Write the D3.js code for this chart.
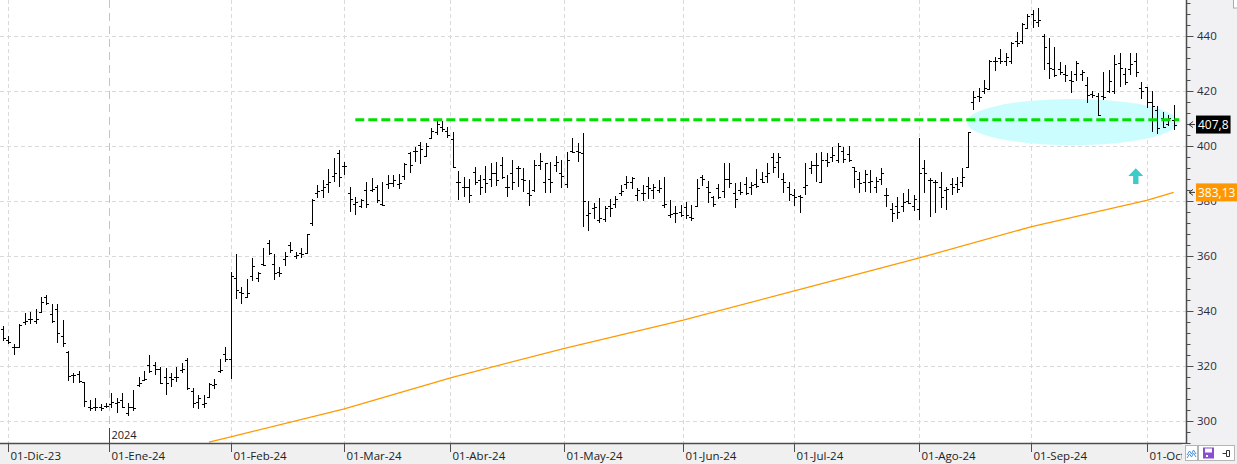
<!DOCTYPE html>
<html><head><meta charset="utf-8">
<script src="https://cdn.jsdelivr.net/npm/d3@7/dist/d3.min.js"></script>
<style>
body{margin:0;background:#fff}
svg{display:block}
text{font-family:"Segoe UI","Open Sans","Noto Sans",sans-serif}
</style>
</head><body>
<svg id="c" width="1237" height="464"></svg>
<script>
// ---------- DATA ----------
const monthLabels = ["01-Dic-23","01-Ene-24","01-Feb-24","01-Mar-24","01-Abr-24","01-May-24","01-Jun-24","01-Jul-24","01-Ago-24","01-Sep-24","01-Oct-24"];
const monthTickIdx = [1,19.5,42,63,82.5,103.5,125.5,146,169,189.6,211];
const yearLabel = "2024";
const yearTickIdx = 19.5;

const opens = [333.3,329.5,327.0,327.0,336.0,337.0,336.5,339.5,345.0,339.0,340.6,331.0,325.0,316.7,317.0,314.0,305.0,305.0,305.0,305.5,
306.0,306.5,307.6,303.0,305.0,313.0,315.0,320.3,320.2,318.8,316.0,316.0,316.0,318.7,322.0,311.0,307.0,306.0,308.8,313.0,
318.0,324.3,322.4,352.0,347.0,345.0,352.7,352.0,357.0,364.6,357.0,354.0,359.0,364.0,360.0,361.0,361.0,372.0,383.0,384.0,
386.0,389.0,397.5,392.7,383.0,379.0,378.0,384.0,384.0,385.0,379.0,386.0,386.5,386.0,389.0,397.3,398.0,400.4,396.5,403.0,
405.0,407.0,405.5,402.4,387.0,385.0,385.0,390.7,387.6,388.0,388.0,390.0,393.0,385.0,390.3,392.0,388.0,383.0,384.0,393.0,
387.0,388.0,393.0,390.0,386.0,398.0,398.0,397.6,375.0,377.5,373.0,373.5,378.0,379.0,383.0,386.0,387.0,382.0,383.0,385.5,
384.0,384.0,378.5,375.0,375.5,376.0,377.9,374.0,378.0,388.6,385.0,381.5,384.6,383.7,388.0,383.0,384.0,386.0,385.0,386.0,
388.0,389.0,396.1,394.0,388.0,385.0,382.0,381.8,385.0,392.0,393.0,387.0,395.0,396.0,395.0,398.0,397.0,392.3,388.0,387.0,
387.0,385.0,388.0,382.0,377.0,378.0,378.0,380.0,378.0,377.0,392.0,387.5,387.0,385.0,384.0,386.0,386.0,387.0,392.5,416.0,
418.0,420.0,420.6,431.0,432.0,431.0,431.0,438.0,438.0,443.0,448.0,445.0,440.0,430.0,428.0,428.0,426.0,424.0,426.0,426.0,
422.0,419.0,418.0,418.0,420.0,420.0,430.0,426.0,428.0,431.0,421.0,421.3,416.0,413.0,410.0,408.0,409.5];
const highs = [334.5,330.9,328.0,335.1,339.1,339.6,340.6,345.2,345.8,342.5,342.5,336.7,325.5,317.6,318.3,314.2,307.6,308.2,306.2,306.4,
310.3,308.2,310.3,306.7,311.3,315.9,318.3,323.9,321.6,319.5,319.2,317.3,319.5,321.0,323.0,311.9,309.4,309.4,313.7,315.2,
322.4,327.0,354.3,360.7,348.8,351.5,359.2,354.3,362.8,365.8,360.7,356.1,361.6,365.2,361.6,362.8,368.0,380.6,385.8,387.6,
391.5,395.5,398.5,394.3,385.2,381.6,380.6,387.0,388.5,385.8,387.0,389.5,389.5,389.7,393.7,397.9,399.8,401.6,401.0,406.5,
409.5,409.2,407.0,405.2,390.9,388.6,387.9,392.2,389.5,392.7,393.7,394.3,395.9,389.5,394.9,392.7,391.9,387.6,394.9,397.6,
393.9,394.3,396.4,394.9,397.9,402.8,401.2,404.6,380.1,379.4,381.0,378.2,380.6,381.8,385.8,389.1,388.8,384.6,385.8,388.8,
386.2,387.6,388.6,380.4,378.2,378.6,379.8,378.6,387.9,389.5,387.3,381.8,386.2,393.7,393.7,386.7,387.0,388.6,387.0,391.5,
390.7,393.9,397.6,397.6,390.3,387.0,384.2,382.2,393.7,394.7,397.3,397.9,397.6,399.8,401.2,399.5,400.0,392.5,390.7,391.3,
391.3,388.8,391.9,384.6,379.1,381.3,382.8,384.2,382.2,402.8,394.9,388.2,387.6,390.7,385.2,388.2,388.6,391.9,405.2,420.1,
421.0,424.0,431.3,432.5,435.2,433.7,437.9,441.6,444.6,448.0,449.5,450.1,440.7,439.2,436.1,430.7,429.4,427.4,431.0,427.6,
425.0,420.1,419.1,427.0,427.6,433.1,433.9,428.2,433.9,433.7,423.4,421.3,420.1,414.6,412.5,411.3,414.9];
const lows = [329.2,328.0,324.1,326.8,334.9,335.1,335.1,339.4,342.2,335.5,328.2,327.0,314.7,313.7,313.7,305.0,303.8,303.8,303.8,304.6,
304.6,302.8,304.6,301.8,303.8,312.2,314.7,317.3,316.7,313.4,309.4,312.5,314.3,317.3,311.3,304.6,304.2,304.6,308.2,311.8,
317.3,321.6,315.1,344.2,342.5,344.6,351.0,350.7,356.4,360.4,351.3,352.2,356.4,361.2,358.8,359.2,360.7,370.9,381.2,381.2,
383.0,387.0,385.2,389.5,376.1,374.9,377.6,377.3,383.4,379.4,378.2,384.2,385.2,384.2,387.6,390.1,394.3,393.3,396.4,402.4,
404.0,405.2,403.0,391.9,380.4,381.6,379.4,385.8,382.2,382.8,385.0,385.5,387.9,381.6,384.0,385.0,383.4,378.2,383.4,391.3,
382.8,382.8,390.7,384.6,384.6,397.6,394.3,370.7,369.2,373.3,371.9,372.5,374.1,377.3,381.8,384.2,384.2,380.1,380.1,380.6,
380.6,382.8,377.3,373.7,371.9,374.1,373.3,372.8,377.7,385.4,379.4,377.7,380.6,381.0,384.6,377.3,382.2,382.2,382.2,384.6,
386.4,386.4,390.3,388.2,383.0,380.1,378.2,375.5,382.2,389.8,387.0,386.7,392.5,394.3,393.9,393.7,394.3,384.6,382.8,383.4,
383.0,382.8,385.8,377.9,372.5,373.3,376.1,378.9,376.5,373.1,383.0,374.3,375.5,377.3,376.7,382.2,382.8,385.2,392.5,413.1,
416.1,418.9,420.4,427.4,429.8,429.1,429.8,436.1,437.1,442.4,442.8,443.4,427.6,424.3,425.0,425.8,423.4,419.1,423.8,423.8,
415.8,417.3,410.9,416.7,419.1,418.9,421.6,422.2,425.8,425.0,417.0,413.7,405.2,404.4,406.4,407.3,405.8];
const closes = [330.0,328.7,327.0,335.0,336.5,337.0,337.0,343.4,342.8,336.5,331.9,328.5,316.5,316.7,314.7,307.3,304.6,305.2,304.6,305.4,
307.0,307.0,305.2,305.0,304.9,313.9,315.3,318.0,319.0,313.7,313.7,315.4,316.0,319.0,311.9,306.4,308.2,306.4,313.4,313.4,
318.5,322.4,352.7,347.6,346.7,346.7,356.4,353.7,356.7,361.0,353.7,353.7,360.0,362.2,360.4,360.7,367.9,380.3,383.6,385.0,
387.0,390.0,388.8,392.7,380.6,379.7,380.3,378.9,384.2,380.4,378.5,386.7,387.6,386.4,393.3,393.1,398.3,398.8,400.0,405.5,
408.0,406.0,404.0,392.2,387.0,385.0,382.2,387.0,385.0,386.7,390.3,387.6,388.8,385.0,387.0,391.9,387.6,382.2,393.0,394.7,
393.7,387.0,394.3,389.1,394.9,397.9,397.9,380.0,375.5,377.7,373.7,377.3,377.3,380.6,383.8,387.0,388.2,384.0,383.0,384.6,
385.0,384.6,378.9,375.3,375.7,374.9,374.9,373.7,384.6,388.0,383.4,379.0,381.6,388.0,386.7,380.6,383.4,382.8,385.8,385.4,
387.0,390.3,392.5,396.1,387.0,382.5,381.6,381.3,385.8,393.1,393.1,395.0,394.3,396.7,400.0,395.1,394.9,391.0,386.4,389.8,
387.4,387.4,390.0,382.2,375.5,376.1,379.8,379.4,380.6,390.1,390.1,387.6,387.0,381.3,384.2,385.0,384.2,388.8,405.0,417.7,
417.9,421.0,431.0,430.9,430.9,432.2,437.3,437.3,444.4,447.3,445.8,445.8,436.1,428.2,425.8,427.0,425.8,423.8,430.3,427.0,
418.5,418.5,411.3,417.9,423.8,429.8,428.2,423.4,429.8,427.0,420.1,416.0,414.5,406.4,406.8,410.1,407.8];

// moving average (orange) read at points
const maIdx  = [38,   42.2,  62.8,  82.9,  103.6, 125.5, 146,   168.9, 189.8, 211,   216];
const maVals = [292.3,294.3, 304.3, 315.9, 326.4, 336.7, 347.3, 359.2, 370.7, 380.2, 383.13];

const yTickValues = [300,320,340,360,380,400,420,440];
const lastPriceLabel = "407,8";
const lastPrice = 407.8;
const maLabel = "383,13";
const maLast = 383.13;

// annotations (data space)
const supportLevel = 409.5, supportFrom = 65, supportTo = 217;
const zone = {cx:197.3, cy:408.7, rxBars:19.5, ryVal:8.4};
const arrow = {idx:209.0, tip:391.9, base:386.2};

// ---------- LAYOUT ----------
const W = 1237, H = 464;
const plotR = 1186, plotB = 443;
const svg = d3.select("#c");

const x = d3.scaleLinear().domain([0, 216]).range([3, 3 + 216*5.42]);
const y = d3.scaleLinear().domain([292, 453.09]).range([plotB, 0]);

svg.append("defs").append("clipPath").attr("id","clip")
  .append("rect").attr("x",0).attr("y",0).attr("width",plotR).attr("height",plotB);

// background panels
svg.append("rect").attr("x",0).attr("y",0).attr("width",W).attr("height",H).attr("fill","#fff");
svg.append("rect").attr("x",plotR).attr("y",0).attr("width",W-plotR).attr("height",H).attr("fill","#f1f1f3");
svg.append("rect").attr("x",0).attr("y",plotB).attr("width",W).attr("height",H-plotB).attr("fill","#f0f0f0");

const plot = svg.append("g").attr("clip-path","url(#clip)");

// grid
plot.selectAll("line.hg").data(yTickValues).join("line")
  .attr("x1",0).attr("x2",plotR)
  .attr("y1",d=>Math.round(y(d))+0.5).attr("y2",d=>Math.round(y(d))+0.5)
  .attr("stroke","#dadada").attr("stroke-dasharray","4,3");
plot.selectAll("line.vg").data(monthTickIdx.filter(d=>d!==yearTickIdx)).join("line")
  .attr("x1",d=>Math.round(x(d))+0.5).attr("x2",d=>Math.round(x(d))+0.5)
  .attr("y1",0).attr("y2",plotB)
  .attr("stroke","#dadada").attr("stroke-dasharray","4,3");
plot.append("line")
  .attr("x1",Math.round(x(yearTickIdx))+0.5).attr("x2",Math.round(x(yearTickIdx))+0.5)
  .attr("y1",0).attr("y2",plotB)
  .attr("stroke","#c4c4c4").attr("stroke-dasharray","8,5");

// zone ellipse
plot.append("ellipse")
  .attr("cx",x(zone.cx)).attr("cy",y(zone.cy))
  .attr("rx",x(zone.cx+zone.rxBars)-x(zone.cx))
  .attr("ry",y(zone.cy-zone.ryVal)-y(zone.cy))
  .attr("fill","#ccfdfe");

// MA line
const maPts = maIdx.map((d,i)=>[d,maVals[i]]);
plot.append("path").datum(maPts)
  .attr("d",d3.line().x(d=>x(d[0])).y(d=>y(d[1])))
  .attr("fill","none").attr("stroke","#ff9a00").attr("stroke-width",1.3);

// OHLC bars
const bars = plot.append("g").attr("stroke","#000").attr("shape-rendering","crispEdges");
opens.forEach((o,i)=>{
  const cx = Math.round(x(i))+0.5;
  bars.append("line").attr("x1",cx).attr("x2",cx).attr("y1",y(highs[i])).attr("y2",y(lows[i])).attr("stroke-width",1.5);
  bars.append("line").attr("x1",cx-2.5).attr("x2",cx).attr("y1",Math.round(y(o))+0.5).attr("y2",Math.round(y(o))+0.5).attr("stroke-width",1);
  bars.append("line").attr("x1",cx).attr("x2",cx+2.5).attr("y1",Math.round(y(closes[i]))+0.5).attr("y2",Math.round(y(closes[i]))+0.5).attr("stroke-width",1);
});

// support dashed line
plot.append("line")
  .attr("x1",x(supportFrom)).attr("x2",x(supportTo))
  .attr("y1",y(supportLevel)).attr("y2",y(supportLevel))
  .attr("stroke","#00e000").attr("stroke-width",3).attr("stroke-dasharray","9,4");

// up arrow
{
  const ax = x(arrow.idx), yt = y(arrow.tip), yb = y(arrow.base);
  const yh = yt + (yb-yt)*0.5;
  plot.append("path")
    .attr("d",`M${ax},${yt} L${ax+7.5},${yh} L${ax+2.7},${yh} L${ax+2.7},${yb} L${ax-2.7},${yb} L${ax-2.7},${yh} L${ax-7.5},${yh} Z`)
    .attr("fill","#3ccaca");
}

// right axis
const yAxisG = svg.append("g").attr("transform",`translate(${plotR+0.5},0)`);
yAxisG.append("line").attr("x1",0).attr("x2",0).attr("y1",0).attr("y2",plotB).attr("stroke","#4d4d4d").attr("stroke-width",1.5);
const minorVals = d3.range(292,454,4).filter(v=>v%20!==0);
yAxisG.selectAll("line.mi").data(minorVals).join("line")
  .attr("x1",0).attr("x2",4).attr("y1",d=>Math.round(y(d))+0.5).attr("y2",d=>Math.round(y(d))+0.5)
  .attr("stroke","#4d4d4d");
yAxisG.selectAll("line.ma").data(yTickValues).join("line")
  .attr("x1",0).attr("x2",7).attr("y1",d=>Math.round(y(d))+0.5).attr("y2",d=>Math.round(y(d))+0.5)
  .attr("stroke","#4d4d4d");
yAxisG.selectAll("text").data(yTickValues).join("text")
  .attr("x",10.5).attr("y",d=>y(d)).attr("dy","0.36em")
  .attr("font-size",11.5).attr("fill","#2b2b3a").text(d=>d);

// bottom axis
svg.append("line").attr("x1",0).attr("x2",plotR+1).attr("y1",plotB+0.5).attr("y2",plotB+0.5)
  .attr("stroke","#4d4d4d").attr("stroke-width",1.5);
const xt = svg.append("g");
xt.selectAll("line").data(monthTickIdx).join("line")
  .attr("x1",d=>Math.round(x(d))+0.5).attr("x2",d=>Math.round(x(d))+0.5)
  .attr("y1",plotB).attr("y2",plotB+9).attr("stroke","#4d4d4d");
xt.selectAll("text").data(monthTickIdx).join("text")
  .attr("x",d=>Math.round(x(d))+2.5).attr("y",459.5)
  .attr("font-size",11.5).attr("fill","#222").text((d,i)=>monthLabels[i]);
// year marker
svg.append("line")
  .attr("x1",Math.round(x(yearTickIdx))+0.5).attr("x2",Math.round(x(yearTickIdx))+0.5)
  .attr("y1",428).attr("y2",plotB).attr("stroke","#444");
svg.append("text").attr("x",Math.round(x(yearTickIdx))+2.5).attr("y",438.5)
  .attr("font-size",11).attr("fill","#222").text(yearLabel);

// value boxes
function valueBox(v, label, bg){
  const cy = y(v);
  svg.append("path")
    .attr("d",`M${plotR+7},${cy-3} L${plotR+3},${cy} L${plotR+7},${cy+3} M${plotR+3},${cy} L${plotR+9},${cy}`)
    .attr("fill","none").attr("stroke","#333").attr("stroke-width",1);
  const r = svg.append("rect").attr("x",plotR+10).attr("y",cy-9).attr("height",18).attr("fill",bg);
  const t = svg.append("text").attr("x",plotR+12).attr("y",cy).attr("dy","0.36em")
    .attr("font-family","'Liberation Sans',Arial,sans-serif")
    .attr("font-size",12).attr("fill","#fff").text(label);
  const w = t.node().getComputedTextLength();
  r.attr("width", Math.min(w + 4, W - plotR - 10));
}
valueBox(lastPrice, lastPriceLabel, "#000");
valueBox(maLast, maLabel, "#ff9800");

// corner widgets
svg.append("rect").attr("x",1233.5).attr("y",-1).attr("width",5).attr("height",9).attr("fill","#fff").attr("stroke","#aaa");
const ic = svg.append("g");
ic.append("rect").attr("x",1182).attr("y",444).attr("width",55).attr("height",20).attr("fill","#f0f0f0");
ic.append("rect").attr("x",1185.5).attr("y",445.5).attr("width",12).attr("height",15).attr("fill","#fff").attr("stroke","#b5b5b5");
ic.append("path").attr("d","M1187,455 L1189.5,451 L1191.5,454 L1193.5,450 L1196,454 M1187,458 L1189.5,454 L1191.5,457 L1193.5,453 L1196,457")
  .attr("fill","none").attr("stroke","#4a90d9").attr("stroke-width",1);
ic.append("rect").attr("x",1198.5).attr("y",445.5).attr("width",36).attr("height",15).attr("fill","#fff").attr("stroke","#b5b5b5");
ic.append("rect").attr("x",1203).attr("y",447.5).attr("width",11).attr("height",11).attr("fill","#8a4fd0");
ic.append("rect").attr("x",1205).attr("y",448.5).attr("width",7).attr("height",4).attr("fill","#fff");
ic.append("rect").attr("x",1206).attr("y",455).attr("width",2).attr("height",2).attr("fill","#fff");
ic.append("path").attr("d","M1222.5,453.5 L1226,453.5 M1226.5,450.5 L1226.5,456.5 M1226.5,450.5 L1229.5,450.5 L1229.5,456.5 L1226.5,456.5")
  .attr("fill","none").attr("stroke","#333").attr("stroke-width",1);
</script>
</body></html>
